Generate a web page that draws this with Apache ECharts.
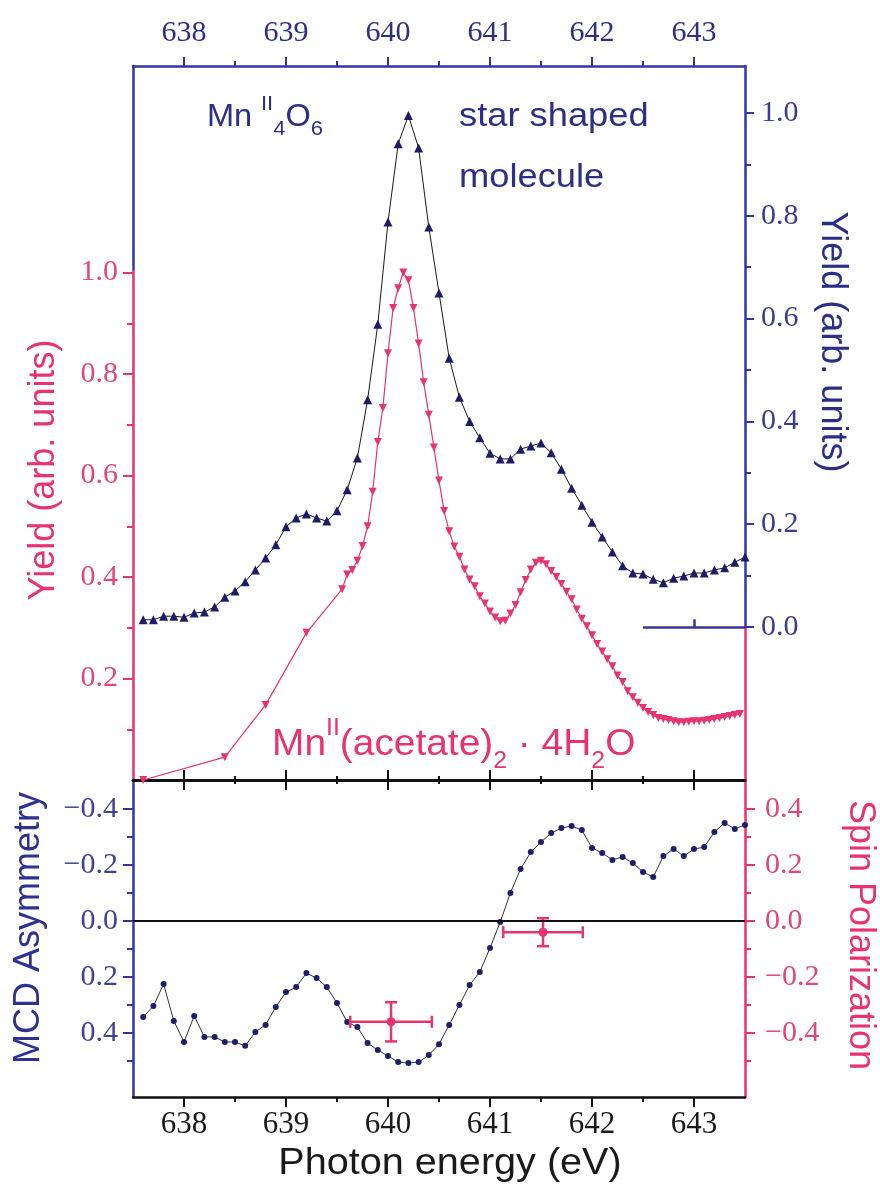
<!DOCTYPE html>
<html><head><meta charset="utf-8">
<script src="https://cdn.jsdelivr.net/npm/echarts@6/dist/echarts.min.js"></script>
<style>html,body{margin:0;padding:0;background:#fff;}#c{width:880px;height:1187px;}</style>
</head><body><div id="c"></div>
<script>
// ---------------- data ----------------
const energyTicks = [638, 639, 640, 641, 642, 643];
const energyMinorTicks = [638.5, 639.5, 640.5, 641.5, 642.5];
const yieldLeftTicks = [0.2, 0.4, 0.6, 0.8, 1.0];
const yieldLeftMinor = [0.1, 0.3, 0.5, 0.7, 0.9];
const yieldRightTicks = [0.0, 0.2, 0.4, 0.6, 0.8, 1.0];
const yieldRightMinor = [0.1, 0.3, 0.5, 0.7, 0.9];
const mcdTicks = [-0.4, -0.2, 0.0, 0.2, 0.4];
const mcdMinor = [-0.3, -0.1, 0.1, 0.3, 0.5];
const spinTicks = [-0.4, -0.2, 0.0, 0.2, 0.4];
const spinMinor = [-0.5, -0.3, -0.1, 0.1, 0.3];

// Mn(II)4O6 star shaped molecule, yield (right axis)
const mn4o6 = [
 [637.6,0.014],[637.7,0.014],[637.8,0.021],[637.9,0.021],[638.0,0.019],[638.1,0.027],[638.2,0.029],
 [638.3,0.039],[638.4,0.058],[638.5,0.070],[638.6,0.088],[638.7,0.111],[638.8,0.134],[638.9,0.160],
 [639.0,0.195],[639.1,0.212],[639.2,0.220],[639.3,0.212],[639.4,0.206],[639.5,0.226],[639.6,0.267],
 [639.7,0.329],[639.8,0.442],[639.9,0.589],[640.0,0.788],[640.1,0.940],[640.2,0.995],[640.3,0.932],
 [640.4,0.778],[640.5,0.650],[640.6,0.523],[640.7,0.447],[640.8,0.400],[640.9,0.368],[641.0,0.338],
 [641.1,0.327],[641.2,0.327],[641.3,0.346],[641.4,0.352],[641.5,0.358],[641.6,0.339],[641.7,0.307],
 [641.8,0.270],[641.9,0.237],[642.0,0.204],[642.1,0.175],[642.2,0.146],[642.3,0.119],[642.4,0.105],
 [642.5,0.103],[642.6,0.093],[642.7,0.086],[642.8,0.095],[642.9,0.099],[643.0,0.105],[643.1,0.105],
 [643.2,0.111],[643.3,0.115],[643.4,0.126],[643.5,0.136]
];
// Mn(II)(acetate)2·4H2O, yield (left axis)
const acetate = [
 [637.6,0.000],[638.4,0.045],[638.8,0.148],[639.2,0.290],[639.55,0.376],[639.6,0.405],[639.65,0.414],
 [639.7,0.432],[639.75,0.461],[639.8,0.500],[639.85,0.568],[639.9,0.666],[639.95,0.733],[640.0,0.841],
 [640.05,0.930],[640.1,0.969],[640.15,1.000],[640.2,0.985],[640.25,0.930],[640.3,0.860],[640.35,0.784],
 [640.4,0.720],[640.45,0.655],[640.5,0.590],[640.55,0.530],[640.6,0.490],[640.65,0.460],[640.7,0.440],
 [640.75,0.415],[640.8,0.395],[640.85,0.382],[640.9,0.362],[640.95,0.348],[641.0,0.332],[641.05,0.320],
 [641.1,0.313],[641.15,0.314],[641.2,0.328],[641.25,0.345],[641.3,0.370],[641.35,0.394],[641.4,0.415],
 [641.45,0.428],[641.5,0.432],[641.55,0.425],[641.6,0.412],[641.65,0.400],[641.7,0.386],[641.75,0.371],
 [641.8,0.356],[641.85,0.336],[641.9,0.318],[641.95,0.303],[642.0,0.285],[642.05,0.268],[642.1,0.253],
 [642.15,0.238],[642.2,0.224],[642.25,0.206],[642.3,0.193],[642.35,0.175],[642.4,0.163],[642.45,0.152],
 [642.5,0.142],[642.55,0.134],[642.6,0.128],[642.65,0.122],[642.7,0.120],[642.75,0.118],[642.8,0.116],
 [642.85,0.114],[642.9,0.114],[642.95,0.115],[643.0,0.116],[643.05,0.116],[643.1,0.117],[643.15,0.118],
 [643.2,0.120],[643.25,0.122],[643.3,0.124],[643.35,0.126],[643.4,0.128],[643.45,0.130]
];
// MCD asymmetry (bottom panel, left axis, inverted)
const mcd = [
 [637.6,0.343],[637.7,0.304],[637.8,0.225],[637.9,0.357],[638.0,0.432],[638.1,0.339],[638.2,0.414],
 [638.3,0.414],[638.4,0.432],[638.5,0.432],[638.6,0.446],[638.7,0.396],[638.8,0.371],[638.9,0.307],
 [639.0,0.254],[639.1,0.236],[639.2,0.186],[639.3,0.204],[639.4,0.236],[639.5,0.293],[639.6,0.361],
 [639.7,0.379],[639.8,0.436],[639.9,0.461],[640.0,0.482],[640.1,0.504],[640.2,0.507],[640.3,0.504],
 [640.4,0.479],[640.5,0.440],[640.6,0.371],[640.7,0.300],[640.8,0.229],[640.9,0.182],[641.0,0.096],
 [641.1,0.004],[641.2,-0.100],[641.3,-0.186],[641.4,-0.246],[641.5,-0.282],[641.6,-0.314],[641.7,-0.332],
 [641.8,-0.339],[641.9,-0.325],[642.0,-0.261],[642.1,-0.243],[642.2,-0.218],[642.3,-0.229],[642.4,-0.207],
 [642.5,-0.175],[642.6,-0.157],[642.7,-0.232],[642.8,-0.257],[642.9,-0.232],[643.0,-0.257],[643.1,-0.264],
 [643.2,-0.318],[643.3,-0.350],[643.4,-0.329],[643.5,-0.343]
];
// Spin polarization points: [energy, value, energy error, value error]
const spinPol = [
 [640.03, -0.36, 0.40, 0.07],
 [641.52, -0.04, 0.39, 0.05]
];
// zero reference of the right (star molecule) yield axis
const blueZeroSegment = [642.5, 643.5];
const blueZeroTick = [643, 0.015];

// ---------------- styling ----------------
const BLUE = '#3434a4', NAVY = '#2b2f86', PINK = '#e8336f', PINKTXT = '#e4467c';
const SERIF = '"Liberation Serif","DejaVu Serif",serif';
const SANS = '"Liberation Sans",Arial,sans-serif';
const X0 = 637.5, X1 = 643.5;
const fmt = v => (Math.abs(v) < 1e-9 ? '0.0' : v.toFixed(1).replace('-', '\u2212'));

function xAx(grid, pos, o) {
  return Object.assign({
    type: 'value', gridIndex: grid, position: pos, min: X0, max: X1,
    splitLine: {show: false},
    axisLine: {show: false, onZero: false},
    axisTick: {show: false},
    axisLabel: {show: false}
  }, o);
}
function yAx(grid, pos, min, max, o) {
  return Object.assign({
    type: 'value', gridIndex: grid, position: pos, min: min, max: max,
    splitLine: {show: false},
    axisLine: {show: false, onZero: false},
    axisTick: {show: false},
    axisLabel: {show: false}
  }, o);
}
const tick = (vals, len, color, inside) => ({show: true, customValues: vals, length: len, inside: !!inside, lineStyle: {color: color, width: 2}});

const TOP = 66, MID = 780, BOT = 1097;
const leftLineGrad = new echarts.graphic.LinearGradient(0, TOP, 0, MID,
  [{offset: 0, color: BLUE}, {offset: 0.286, color: BLUE}, {offset: 0.286, color: PINK}, {offset: 1, color: PINK}], true);
const rightLineGrad = new echarts.graphic.LinearGradient(0, TOP, 0, MID,
  [{offset: 0, color: BLUE}, {offset: 0.786, color: BLUE}, {offset: 0.786, color: PINK}, {offset: 1, color: PINK}], true);

const option = {
  animation: false,
  backgroundColor: '#fff',
  grid: [
    {left: 133, right: 135, top: TOP, height: MID - TOP, outerBoundsMode: 'none'},
    {left: 133, right: 135, top: MID, height: BOT - MID, outerBoundsMode: 'none'}
  ],
  xAxis: [
    xAx(0, 'top', {axisLine: {show: true, onZero: false, lineStyle: {color: BLUE, width: 2.5}},
      axisTick: tick(energyTicks, 9, BLUE),
      axisLabel: {show: true, customValues: energyTicks, margin: 18, color: NAVY, fontFamily: SERIF, fontSize: 30}}),
    xAx(0, 'top', {axisTick: tick(energyMinorTicks, 5, BLUE)}),
    xAx(0, 'bottom', {axisLine: {show: true, onZero: false, lineStyle: {color: '#111', width: 3}},
      axisTick: tick(energyTicks, 10, '#111', true)}),
    xAx(0, 'bottom', {axisTick: tick(energyMinorTicks, 4, '#111', true)}),
    xAx(1, 'top', {axisTick: tick(energyTicks, 10, '#111', true)}),
    xAx(1, 'top', {axisTick: tick(energyMinorTicks, 4, '#111', true)}),
    xAx(1, 'bottom', {axisLine: {show: true, onZero: false, lineStyle: {color: '#111', width: 2.5}},
      axisTick: tick(energyTicks, 10, '#111'),
      axisLabel: {show: true, customValues: energyTicks, margin: 12, color: '#1a1a1a', fontFamily: SERIF, fontSize: 31}}),
    xAx(1, 'bottom', {axisTick: tick(energyMinorTicks, 5, '#111')})
  ],
  yAxis: [
    yAx(0, 'left', 0, 1.407, {axisLine: {show: true, onZero: false, lineStyle: {color: leftLineGrad, width: 2.5}},
      axisTick: tick(yieldLeftTicks, 10, PINK),
      axisLabel: {show: true, customValues: yieldLeftTicks, margin: 15, color: PINKTXT, fontFamily: SERIF, fontSize: 30, formatter: fmt}}),
    yAx(0, 'left', 0, 1.407, {axisTick: tick(yieldLeftMinor, 6, PINK)}),
    yAx(0, 'right', -0.2977, 1.0914, {axisLine: {show: true, onZero: false, lineStyle: {color: rightLineGrad, width: 2.5}},
      axisTick: tick(yieldRightTicks, 9, BLUE),
      axisLabel: {show: true, customValues: yieldRightTicks, margin: 16, color: '#3a3e8e', fontFamily: SERIF, fontSize: 30, formatter: fmt}}),
    yAx(0, 'right', -0.2977, 1.0914, {axisTick: tick(yieldRightMinor, 6, BLUE)}),
    yAx(1, 'left', -0.5036, 0.6286, {inverse: true, axisLine: {show: true, onZero: false, lineStyle: {color: BLUE, width: 2.5}},
      axisTick: tick(mcdTicks, 10, BLUE),
      axisLabel: {show: true, customValues: mcdTicks, margin: 15, color: '#41458f', fontFamily: SERIF, fontSize: 30, formatter: fmt}}),
    yAx(1, 'left', -0.5036, 0.6286, {inverse: true, axisTick: tick(mcdMinor, 6, BLUE)}),
    yAx(1, 'right', -0.6286, 0.5036, {axisLine: {show: true, onZero: false, lineStyle: {color: PINK, width: 2.5}},
      axisTick: tick(spinTicks, 10, PINK),
      axisLabel: {show: true, customValues: spinTicks, margin: 20, color: PINKTXT, fontFamily: SERIF, fontSize: 30, formatter: fmt}}),
    yAx(1, 'right', -0.6286, 0.5036, {axisTick: tick(spinMinor, 6, PINK)})
  ],
  series: [
    {
      name: 'Mn4O6', type: 'line', xAxisIndex: 0, yAxisIndex: 2, data: mn4o6,
      symbol: 'triangle', symbolSize: 9, showSymbol: true,
      itemStyle: {color: '#1c1c6a'}, lineStyle: {color: '#1a1a1a', width: 1}, z: 3,
      markLine: {
        silent: true, symbol: 'none', label: {show: false},
        lineStyle: {color: BLUE, width: 2.5, type: 'solid'},
        data: [
          [{coord: [blueZeroSegment[0], 0]}, {coord: [blueZeroSegment[1], 0]}],
          [{coord: [blueZeroTick[0], 0]}, {coord: [blueZeroTick[0], blueZeroTick[1]]}]
        ]
      }
    },
    {
      name: 'acetate', type: 'line', xAxisIndex: 0, yAxisIndex: 0, data: acetate,
      symbol: 'triangle', symbolRotate: 180, symbolSize: 8, showSymbol: true,
      itemStyle: {color: PINK}, lineStyle: {color: PINK, width: 1.2}, z: 3
    },
    {
      name: 'MCD', type: 'line', xAxisIndex: 6, yAxisIndex: 4, data: mcd,
      symbol: 'circle', symbolSize: 6, showSymbol: true,
      itemStyle: {color: '#1e1e6e'}, lineStyle: {color: '#333', width: 1}, z: 3,
      markLine: {
        silent: true, symbol: 'none', label: {show: false},
        lineStyle: {color: '#111', width: 2, type: 'solid'},
        data: [{yAxis: 0}]
      }
    },
    {
      name: 'Spin polarization', type: 'custom', xAxisIndex: 6, yAxisIndex: 6, data: spinPol,
      encode: {x: 0, y: 1}, z: 4,
      renderItem: function (params, api) {
        const x = api.value(0), y = api.value(1), ex = api.value(2), ey = api.value(3);
        const c = api.coord([x, y]);
        const l = api.coord([x - ex, y]), r = api.coord([x + ex, y]);
        const t = api.coord([x, y + ey]), b = api.coord([x, y - ey]);
        const cap = 6;
        const st = {stroke: PINK, lineWidth: 2.5};
        return {type: 'group', children: [
          {type: 'line', shape: {x1: l[0], y1: l[1], x2: r[0], y2: r[1]}, style: st},
          {type: 'line', shape: {x1: l[0], y1: l[1] - cap, x2: l[0], y2: l[1] + cap}, style: st},
          {type: 'line', shape: {x1: r[0], y1: r[1] - cap, x2: r[0], y2: r[1] + cap}, style: st},
          {type: 'line', shape: {x1: t[0], y1: t[1], x2: b[0], y2: b[1]}, style: st},
          {type: 'line', shape: {x1: t[0] - cap, y1: t[1], x2: t[0] + cap, y2: t[1]}, style: st},
          {type: 'line', shape: {x1: b[0] - cap, y1: b[1], x2: b[0] + cap, y2: b[1]}, style: st},
          {type: 'circle', shape: {cx: c[0], cy: c[1], r: 4.5}, style: {fill: PINK}}
        ]};
      }
    }
  ],
  graphic: [
    {type: 'text', x: 44, y: 470, rotation: Math.PI / 2,
      style: {text: 'Yield (arb. units)', fill: PINK, font: '36px ' + SANS, align: 'center', verticalAlign: 'middle', textAlign: 'center', textVerticalAlign: 'middle'}},
    {type: 'text', x: 832, y: 342, rotation: -Math.PI / 2,
      style: {text: 'Yield (arb. units)', fill: NAVY, font: '36px ' + SANS, align: 'center', verticalAlign: 'middle', textAlign: 'center', textVerticalAlign: 'middle'}},
    {type: 'text', x: 29, y: 928, rotation: Math.PI / 2,
      style: {text: 'MCD Asymmetry', fill: '#2e3192', font: '36px ' + SANS, align: 'center', verticalAlign: 'middle', textAlign: 'center', textVerticalAlign: 'middle'}},
    {type: 'text', x: 860, y: 935, rotation: -Math.PI / 2,
      style: {text: 'Spin Polarization', fill: PINK, font: '36px ' + SANS, align: 'center', verticalAlign: 'middle', textAlign: 'center', textVerticalAlign: 'middle'}},
    {type: 'text', x: 450, y: 1164, scaleX: 1.1,
      style: {text: 'Photon energy (eV)', fill: '#1a1a1a', font: '36px ' + SANS, align: 'center', verticalAlign: 'middle', textAlign: 'center', textVerticalAlign: 'middle'}},
    {type: 'text', x: 459, y: 117, scaleX: 1.1,
      style: {text: 'star shaped', fill: NAVY, font: '33px ' + SANS, align: 'left', verticalAlign: 'middle', textAlign: 'left', textVerticalAlign: 'middle'}},
    {type: 'text', x: 459, y: 178, scaleX: 1.1,
      style: {text: 'molecule', fill: NAVY, font: '33px ' + SANS, align: 'left', verticalAlign: 'middle', textAlign: 'left', textVerticalAlign: 'middle'}},
    {type: 'text', x: 207, y: 117, scaleX: 1.05,
      style: {text: '{a|Mn} {s|II}{b|4}{a|O}{b|6}', fill: NAVY, font: '30px ' + SANS,
        align: 'left', verticalAlign: 'middle', textAlign: 'left', textVerticalAlign: 'middle',
        rich: {
          a: {fontSize: 31, fontFamily: SANS, fill: NAVY, lineHeight: 46},
          s: {fontSize: 21, fontFamily: SANS, fill: NAVY, lineHeight: 21, verticalAlign: 'top'},
          b: {fontSize: 21, fontFamily: SANS, fill: NAVY, lineHeight: 21, verticalAlign: 'bottom'}
        }}},
    {type: 'text', x: 272, y: 745, scaleX: 1.08,
      style: {text: '{a|Mn}{s|II}{a|(acetate)}{b|2}{a| \u00b7 4H}{b|2}{a|O}', fill: PINK, font: '36px ' + SANS,
        align: 'left', verticalAlign: 'middle', textAlign: 'left', textVerticalAlign: 'middle',
        rich: {
          a: {fontSize: 36, fontFamily: SANS, fill: PINK, lineHeight: 56},
          s: {fontSize: 23, fontFamily: SANS, fill: PINK, lineHeight: 23, verticalAlign: 'top'},
          b: {fontSize: 23, fontFamily: SANS, fill: PINK, lineHeight: 23, verticalAlign: 'bottom'}
        }}}
  ]
};
const chart = echarts.init(document.getElementById('c'), null, {renderer: 'canvas'});
chart.setOption(option);
</script></body></html>
